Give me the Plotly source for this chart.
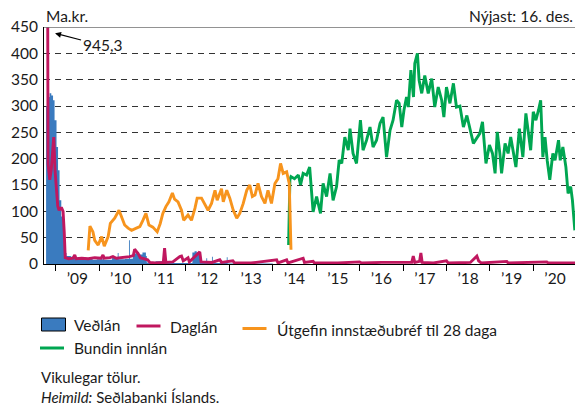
import numpy as np
import pandas as pd
import plotly.graph_objects as go

# Weekly figures, ISK billions. Dates are decimal years.
vedlan_t = [2008.78, 2008.825, 2008.86, 2008.90, 2008.94, 2008.975, 2009.02, 2009.055,
            2009.09, 2009.13, 2009.17, 2009.21, 2009.23, 2009.25, 2009.35, 2009.45,
            2009.55, 2009.65, 2009.75, 2009.85, 2009.95, 2010.09, 2010.11, 2010.30,
            2010.43, 2010.45, 2010.60, 2010.69, 2010.71, 2010.78, 2010.85, 2010.92,
            2011.00, 2011.08, 2011.10, 2011.30, 2011.50, 2012.15, 2012.20, 2012.25,
            2012.30, 2012.33, 2012.47, 2012.49, 2012.60, 2012.62, 2012.94, 2012.96,
            2013.50, 2014.00]
vedlan_v = [300, 317, 324, 320, 311, 273, 222, 178,
            121, 90, 83, 45, 21, 15, 14, 12,
            10, 9, 10, 8, 9, 17, 8, 12,
            21, 9, 10, 45, 10, 20, 23, 18,
            22, 15, 3, 5, 2, 22, 24, 22,
            23, 2, 11, 2, 14, 2, 13, 1,
            1, 0]

daglan_t = [2008.740, 2008.805, 2008.825, 2008.845, 2008.865, 2008.90, 2008.94, 2008.956,
            2008.986, 2009.018, 2009.048, 2009.078, 2009.11, 2009.14, 2009.171, 2009.198,
            2009.221, 2009.30, 2009.40, 2009.44, 2009.47, 2009.60, 2009.75, 2009.90,
            2010.05, 2010.09, 2010.12, 2010.25, 2010.32, 2010.40, 2010.55, 2010.70,
            2010.79, 2010.82, 2010.86, 2010.90, 2010.95, 2011.05, 2011.12, 2011.17,
            2011.30, 2011.48, 2011.51, 2011.54, 2011.70, 2011.86, 2011.90, 2011.94,
            2012.05, 2012.08, 2012.29, 2012.32, 2012.35, 2012.60, 2012.78, 2012.82,
            2013.08, 2013.12, 2013.50, 2014.09, 2014.12, 2014.32, 2014.35, 2014.70,
            2014.73, 2014.93, 2014.96, 2015.50, 2016.00, 2016.05, 2016.50, 2017.20,
            2017.235, 2017.27, 2017.38, 2017.41, 2017.44, 2017.70, 2018.00, 2018.04,
            2018.55, 2018.62, 2018.67, 2018.70, 2018.74, 2018.80, 2019.39, 2019.42,
            2020.31, 2020.34, 2020.96]
daglan_v = [945.3, 945.3, 190, 170, 160, 180, 225, 241,
            178, 134, 110, 102, 106, 106, 100, 60,
            12, 10, 11, 17, 10, 11, 10, 12,
            11, 17, 11, 12, 14, 11, 12, 14,
            16, 28, 24, 20, 12, 10, 8, 3,
            2, 3, 30, 3, 4, 14, 15, 6,
            12, 4, 20, 23, 4, 3, 8, 3,
            6, 2, 2, 8, 2, 8, 2, 11,
            3, 5, 2, 2, 4, 2, 3, 3,
            15, 3, 5, 21, 3, 2, 6, 2,
            3, 8, 12, 15, 6, 2, 5, 2,
            4, 2, 2]

innstaedubref_t = [2009.75, 2009.79, 2009.86, 2009.90, 2009.98, 2010.06, 2010.12, 2010.21,
                   2010.26, 2010.36, 2010.46, 2010.52, 2010.59, 2010.67, 2010.75, 2010.86,
                   2010.94, 2011.01, 2011.08, 2011.15, 2011.24, 2011.34, 2011.41, 2011.47,
                   2011.54, 2011.61, 2011.69, 2011.74, 2011.82, 2011.90, 2011.95, 2012.05,
                   2012.13, 2012.21, 2012.26, 2012.36, 2012.44, 2012.51, 2012.59, 2012.67,
                   2012.72, 2012.82, 2012.86, 2012.94, 2013.01, 2013.09, 2013.17, 2013.24,
                   2013.32, 2013.40, 2013.47, 2013.53, 2013.59, 2013.66, 2013.74, 2013.82,
                   2013.89, 2013.97, 2014.05, 2014.12, 2014.18, 2014.24, 2014.32, 2014.38,
                   2014.42]
innstaedubref_v = [26, 72, 61, 45, 36, 52, 34, 52,
                   77, 87, 102, 87, 74, 68, 64, 68,
                   71, 83, 96, 74, 70, 61, 77, 96,
                   109, 118, 135, 123, 118, 102, 83, 93,
                   83, 106, 125, 125, 112, 102, 115, 140,
                   121, 143, 118, 140, 125, 102, 87, 96,
                   115, 140, 150, 128, 131, 153, 128, 115,
                   140, 115, 153, 162, 191, 172, 175, 153,
                   27]

bundin_t = [2014.365, 2014.395, 2014.42, 2014.50, 2014.59, 2014.64, 2014.70, 2014.78,
            2014.85, 2014.93, 2015.01, 2015.10, 2015.16, 2015.24, 2015.32, 2015.39,
            2015.47, 2015.53, 2015.59, 2015.66, 2015.74, 2015.78, 2015.85, 2015.93,
            2016.02, 2016.08, 2016.16, 2016.24, 2016.31, 2016.39, 2016.47, 2016.54,
            2016.62, 2016.70, 2016.77, 2016.85, 2016.91, 2016.97, 2017.02, 2017.08,
            2017.12, 2017.18, 2017.24, 2017.27, 2017.33, 2017.37, 2017.43, 2017.50,
            2017.58, 2017.66, 2017.73, 2017.81, 2017.89, 2017.94, 2018.00, 2018.08,
            2018.16, 2018.23, 2018.31, 2018.39, 2018.47, 2018.54, 2018.62, 2018.69,
            2018.77, 2018.83, 2018.91, 2018.99, 2019.06, 2019.12, 2019.17, 2019.23,
            2019.27, 2019.35, 2019.42, 2019.48, 2019.54, 2019.60, 2019.68, 2019.76,
            2019.83, 2019.89, 2019.94, 2020.00, 2020.06, 2020.12, 2020.17, 2020.22,
            2020.27, 2020.32, 2020.38, 2020.45, 2020.50, 2020.58, 2020.62, 2020.68,
            2020.75, 2020.80, 2020.86, 2020.90, 2020.955]
bundin_v = [36, 160, 166, 162, 169, 150, 172, 169,
            184, 99, 128, 96, 153, 128, 172, 121,
            147, 197, 191, 241, 216, 257, 210, 191,
            273, 216, 235, 260, 222, 235, 267, 279,
            203, 254, 273, 311, 305, 260, 292, 317,
            298, 368, 317, 381, 400, 349, 324, 358,
            324, 352, 298, 336, 311, 279, 336, 305,
            343, 298, 300, 260, 282, 254, 229, 238,
            248, 270, 191, 226, 210, 172, 251, 210,
            172, 229, 210, 241, 216, 184, 257, 203,
            286, 241, 216, 289, 273, 292, 311, 203,
            241, 197, 160, 210, 197, 235, 197, 222,
            184, 134, 147, 121, 64]

y_ticks = list(range(0, 451, 50))

BLUE = "#3a7bbf"
MAGENTA = "#c0175f"
ORANGE = "#f7941d"
GREEN = "#00a651"
INK = "#1a1a1a"
FONT = "Lato"
FS = 15.5

W, H = 575, 407
ML, MR, MT, MB = 44, 0, 27, 143
PW, PH = W - ML - MR, H - MT - MB


def to_date(t):
    year = int(np.floor(t))
    start = pd.Timestamp(year=year, month=1, day=1)
    end = pd.Timestamp(year=year + 1, month=1, day=1)
    return start + (end - start) * (t - year)


def dates(ts):
    return [to_date(t) for t in ts]


def px(x):
    return (x - ML) / PW


def py(y):
    return (H - MB - y) / PH


fig = go.Figure()

fig.add_trace(go.Scatter(
    x=dates(vedlan_t), y=vedlan_v, name="Veðlán", mode="lines",
    line=dict(color=BLUE, width=0, shape="hv"), fill="tozeroy",
    fillcolor=BLUE, showlegend=False))
fig.add_trace(go.Scatter(
    x=dates(bundin_t), y=bundin_v, name="Bundin innlán", mode="lines",
    line=dict(color=GREEN, width=2.9), showlegend=False))
fig.add_trace(go.Scatter(
    x=dates(innstaedubref_t), y=innstaedubref_v, name="Útgefin innstæðubréf til 28 daga",
    mode="lines", line=dict(color=ORANGE, width=2.9), showlegend=False))
fig.add_trace(go.Scatter(
    x=dates(daglan_t), y=daglan_v, name="Daglán", mode="lines",
    line=dict(color=MAGENTA, width=2.9), showlegend=False))

fig.update_layout(
    width=W, height=H, margin=dict(l=ML, r=MR, t=MT, b=MB),
    paper_bgcolor="white", plot_bgcolor="white", showlegend=False,
    font=dict(family=FONT, color=INK),
    xaxis=dict(
        type="date", range=["2008-09-25", "2020-12-17"],
        tick0="2009-01-01", dtick="M12", tickformat="’%y", ticklabelmode="period",
        ticks="outside", ticklen=6, tickwidth=1, tickcolor="black",
        ticklabelstandoff=-6,
        showline=True, linecolor="black", linewidth=1, showgrid=False, zeroline=False,
        tickfont=dict(family=FONT, size=FS, color=INK)),
    yaxis=dict(
        range=[0, 450], tickmode="array", tickvals=y_ticks, showline=True,
        linecolor="black", linewidth=1,
        showgrid=True, gridcolor="#333333", gridwidth=1, griddash="6px,5px",
        zeroline=False, ticks="outside", ticklen=2, tickcolor="rgba(0,0,0,0)",
        tickfont=dict(family=FONT, size=FS, color=INK)),
)

# solid frame line along the top of the plot
fig.add_shape(type="line", xref="paper", yref="y", x0=0, x1=1, y0=450, y1=450,
              line=dict(color="#6e6e6e", width=1.5))

# off-scale peak of the overnight lending
peak = max(daglan_v)
fig.add_annotation(x=to_date(2008.986), y=438, xref="x", yref="y",
                   text=f"{peak:.1f}".replace(".", ","), showarrow=True,
                   ax=47, ay=12, arrowhead=2, arrowsize=1, arrowwidth=1.2,
                   arrowcolor="black", font=dict(family=FONT, size=FS, color=INK))

fig.add_annotation(x=px(44), y=py(16), xref="paper", yref="paper", text="Ma.kr.",
                   showarrow=False, xanchor="left", yanchor="middle",
                   font=dict(family=FONT, size=FS, color=INK))
fig.add_annotation(x=px(575), y=py(16), xref="paper", yref="paper", text="Nýjast: 16. des.",
                   showarrow=False, xanchor="right", yanchor="middle",
                   font=dict(family=FONT, size=FS, color=INK))

# legend
fig.add_shape(type="rect", xref="paper", yref="paper", x0=px(41.5), x1=px(65.5),
              y0=py(318), y1=py(331), fillcolor=BLUE, line=dict(color="black", width=1))
legend_lines = [(136.5, 326, MAGENTA), (242.5, 328.5, ORANGE), (40, 348, GREEN)]
for x0, y0, c in legend_lines:
    fig.add_shape(type="line", xref="paper", yref="paper", x0=px(x0), x1=px(x0 + 24),
                  y0=py(y0), y1=py(y0), line=dict(color=c, width=3))
legend_text = [(72, 324.5, "Veðlán"), (168, 327, "Daglán"),
               (275, 329.5, "Útgefin innstæðubréf til 28 daga"), (72, 348, "Bundin innlán")]
for x0, y0, t in legend_text:
    fig.add_annotation(x=px(x0), y=py(y0), xref="paper", yref="paper", text=t,
                       showarrow=False, xanchor="left", yanchor="middle",
                       font=dict(family=FONT, size=FS, color=INK))

# notes below the legend
fig.add_annotation(x=px(39.5), y=py(386.5), xref="paper", yref="paper",
                   text="Vikulegar tölur.<br><i>Heimild:</i> Seðlabanki Íslands.",
                   showarrow=False, xanchor="left", yanchor="middle", align="left",
                   borderpad=0, font=dict(family=FONT, size=15, color=INK))

fig.write_html("out.html")
